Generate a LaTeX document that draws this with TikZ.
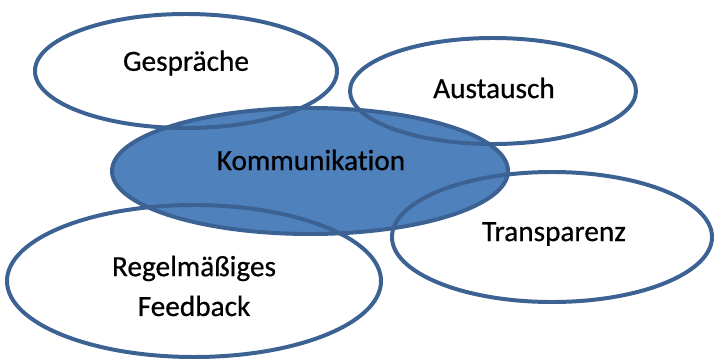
\documentclass[tikz,border=0pt]{standalone}
\usepackage{fontspec}
\setmainfont{Carlito}
\newfontfamily\lblfont{Carlito}[FakeBold=0.6, Ligatures=NoCommon]
\usetikzlibrary{shapes.geometric}
\definecolor{rim}{HTML}{3B6293}
\definecolor{core}{HTML}{4F81BD}
\begin{document}
\begin{tikzpicture}[
    x=0.03cm, y=-0.03cm,
    bubble/.style={ellipse, draw=rim, line width=3.4pt, inner sep=0pt},
    txt/.style={font=\lblfont\fontsize{25}{34}\selectfont, align=center, text=black}
]
\useasboundingbox (0,0) rectangle (716,361);

% centre ellipse first, the others only as outlines over it
\node[bubble, fill=core, minimum width=11.88cm, minimum height=3.78cm] (kom) at (310,171) {};

\node[bubble, minimum width=9.06cm, minimum height=3.42cm] (ges) at (186,71) {};
\node[bubble, minimum width=8.58cm, minimum height=3.18cm] (aus) at (493,91) {};
\node[bubble, minimum width=9.6cm, minimum height=3.9cm] (tra) at (552,237) {};
\node[bubble, minimum width=11.22cm, minimum height=4.56cm] (feed) at (194,281) {};

% labels
\node[txt] at (311,160) {Kommunikation};
\node[txt] at (186,63) {Gespräche};
\node[txt] at (494,88) {Austausch};
\node[txt] at (554,234) {Transparenz};
\node[txt] at (194,286) {Regelmäßiges\\Feedback};

\end{tikzpicture}
\end{document}
